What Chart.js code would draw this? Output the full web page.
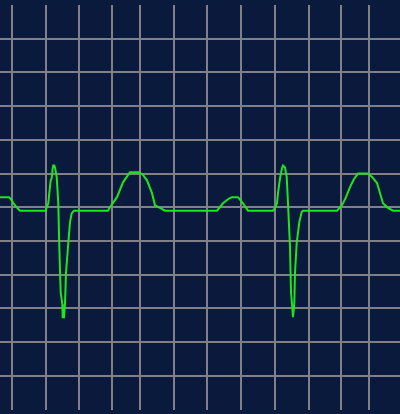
<!DOCTYPE html>
<html>
<head>
<meta charset="utf-8">
<script src="https://cdn.jsdelivr.net/npm/chart.js@4.4.0/dist/chart.umd.min.js"></script>
<style>
    html, body { margin: 0; padding: 0; background: #0a1a3c; overflow: hidden; }
    #wrap { position: relative; width: 400px; height: 430px; }
</style>
</head>
<body>
<div id="wrap"><canvas id="ecgChart"></canvas></div>
<script>
// --- DONNEES ---
const sampleX = [0, 9, 11, 13, 16, 20, 45.7, 46.7, 48.3, 49.3, 50.7, 51.7, 52.7, 53.3, 54.3, 55, 56.7, 58.3, 59.3, 60.7, 62.3, 62.7, 64, 65, 66, 68.3, 70, 71.7, 74,
    108, 110, 117, 123, 130, 139, 143, 147, 152, 155, 160, 165,
    217, 223, 229, 232, 238, 243, 248, 273,
    275, 277, 278, 280, 282, 283, 285, 286.7, 288, 290, 291, 292, 293, 294.3, 295, 296.7, 299.3, 301.7, 303,
    337, 342, 346, 350, 354, 358, 368, 372, 377, 383, 388, 393, 400];

const millivolts = [0.15, 0.15, 0.12, 0.07, 0.01, -0.05, -0.05, 0.00, 0.06, 0.21, 0.40, 0.43, 0.58, 0.62, 0.62, 0.59, 0.45, 0.06, -0.59, -1.26, -1.43, -1.63, -1.63, -1.43, -0.97, -0.53, -0.22, -0.09, -0.05,
    -0.05, 0.00, 0.15, 0.37, 0.52, 0.52, 0.48, 0.40, 0.21, 0.03, -0.01, -0.05,
    -0.05, 0.06, 0.13, 0.15, 0.15, 0.06, -0.05, -0.05,
    -0.01, 0.06, 0.21, 0.43, 0.58, 0.62, 0.59, 0.45, 0.06, -0.59, -1.26, -1.43, -1.63, -1.43, -0.97, -0.53, -0.22, -0.07, -0.05,
    -0.05, 0.03, 0.15, 0.30, 0.42, 0.50, 0.50, 0.45, 0.36, 0.06, -0.01, -0.05, -0.05];

const xTickValues = [12, 46, 79, 112, 140, 174, 207, 241, 275, 309, 341, 369];
const xTickLabels = ["12", "46", "79", "112", "140", "174", "207", "241", "275", "309", "341", "369"];

// lignes de grille sauf les bords
function gridColor(ctx) {
    const n = ctx.scale.ticks.length;
    if (ctx.scale.axis === "y" && (ctx.index === 0 || ctx.index === n - 1)) return "rgba(0,0,0,0)";
    return "rgb(128,128,134)";
}

document.addEventListener("DOMContentLoaded", () => {
    const ctx = document.getElementById("ecgChart").getContext("2d");

    new Chart(ctx, {
        type: "line",
        data: {
            datasets: [{
                label: "ECG",
                data: sampleX.map((x, i) => ({ x: x, y: millivolts[i] })),
                borderColor: "#1ee61e",
                borderWidth: 2,
                pointRadius: 0,
                tension: 0,
                fill: false
            }]
        },
        options: {
            responsive: true,
            maintainAspectRatio: false,
            animation: false,
            layout: { padding: { top: 5, left: 0, right: 0, bottom: 0 } },
            plugins: {
                legend: { display: false },
                tooltip: { enabled: false }
            },
            scales: {
                x: {
                    type: "linear",
                    min: 0,
                    max: 400,
                    afterBuildTicks: scale => {
                        scale.ticks = xTickValues.map(v => ({ value: v }));
                    },
                    ticks: {
                        autoSkip: false,
                        maxRotation: 0,
                        padding: 3,
                        color: "#8a8a90",
                        font: { size: 12 },
                        callback: (value) => xTickLabels[xTickValues.indexOf(value)]
                    },
                    grid: { color: gridColor, lineWidth: 2, drawTicks: false },
                    border: { display: false }
                },
                y: {
                    min: -3,
                    max: 3,
                    ticks: { stepSize: 0.5, display: false },
                    grid: { color: gridColor, lineWidth: 2, drawTicks: false },
                    border: { display: false }
                }
            }
        }
    });
});
</script>
</body>
</html>
